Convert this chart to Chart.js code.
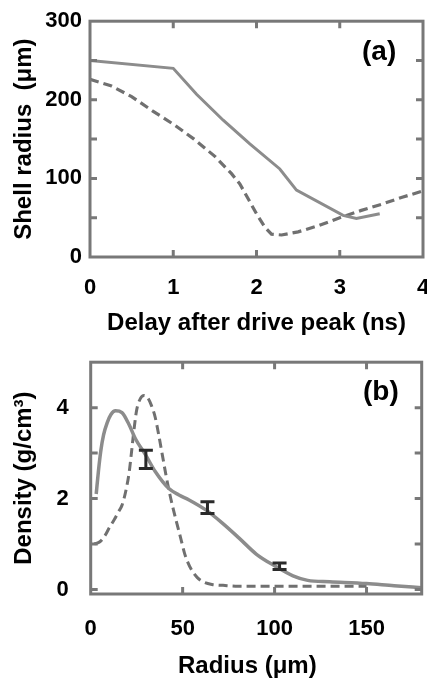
<!DOCTYPE html>
<html><head><meta charset="utf-8">
<script src="https://cdn.jsdelivr.net/npm/chart.js@4.4.1/dist/chart.umd.min.js"></script>
<style>
html,body{margin:0;padding:0;background:#fff;overflow:hidden;width:427px;height:679px;position:relative;}
#wrapA{position:absolute;left:0;top:0;width:450px;height:340px;}
#wrapB{position:absolute;left:0;top:327px;width:440px;height:352px;}
.lab{position:absolute;font:bold 28px "Liberation Sans",Arial,sans-serif;line-height:28px;color:#000;white-space:nowrap;}
.xt{position:absolute;font:bold 24px "Liberation Sans",Arial,sans-serif;line-height:24px;color:#000;white-space:nowrap;}
</style></head><body>
<div id="wrapA"><canvas id="ca" width="450" height="340"></canvas></div>
<div id="wrapB"><canvas id="cb" width="440" height="352"></canvas></div>
<div class="lab" style="left:362px;top:37px;">(a)</div>
<div class="lab" style="left:363px;top:377px;">(b)</div>
<div class="xt" style="left:178px;top:653px;">Radius (μm)</div>
<script>
// ---- Panel (a) data ----
const aSolidX = [0, 1, 1.28, 1.6, 1.92, 2.28, 2.48, 3.04, 3.2, 3.48];
const aSolidY = [250, 240, 207, 174, 144, 112, 85, 53, 49, 55];
const aDashX = [0, 0.25, 0.5, 0.75, 1, 1.25, 1.5, 1.7, 1.8, 1.9, 2, 2.1, 2.18, 2.3, 2.5, 2.75, 3, 3.25, 3.5, 3.75, 4];
const aDashY = [226, 218, 204, 186, 169, 150, 128, 106, 93, 74, 55, 38, 29, 28, 32, 40, 50, 59, 67, 76, 84];
const aXTicks = [0, 1, 2, 3, 4];
const aYTicks = [0, 50, 100, 150, 200, 250, 300];

// ---- Panel (b) data ----
const bSolidX = [3, 4.2, 5.5, 7, 9, 11, 13.5, 17, 20.7, 24.4, 30, 35, 42.5, 48, 53.5, 62.6, 71.6, 80.7, 90, 100, 110, 118, 130, 150, 165, 180];
const bSolidY = [2.1, 2.6, 3.05, 3.4, 3.67, 3.85, 3.93, 3.89, 3.64, 3.31, 2.95, 2.6, 2.22, 2.08, 1.97, 1.75, 1.46, 1.13, 0.78, 0.52, 0.3, 0.2, 0.17, 0.13, 0.08, 0.04];
const bDashX = [2, 5, 8, 10, 13, 15, 17, 19, 21, 22, 23.5, 25, 27, 29, 31, 33, 35, 37, 39, 41, 43, 45, 47, 49, 51, 53, 55, 58, 61, 66, 72, 80, 150];
const bDashY = [1.0, 1.05, 1.2, 1.35, 1.55, 1.7, 1.85, 2.15, 2.6, 2.95, 3.5, 3.95, 4.2, 4.27, 4.22, 4.05, 3.8, 3.4, 2.95, 2.5, 2.1, 1.75, 1.43, 1.12, 0.8, 0.58, 0.42, 0.26, 0.17, 0.11, 0.09, 0.07, 0.07];
const bErrX = [30, 63.5, 102.7];
const bErrY = [2.86, 1.8, 0.51];
const bErrD = [0.2, 0.13, 0.07];
const bXTicks = [0, 50, 100, 150];
const bYTicks = [0, 1, 2, 3, 4];

const FONT = "'Liberation Sans', Arial, Helvetica, sans-serif";
Chart.defaults.font.family = FONT;
Chart.defaults.color = '#000';

const SOLID = '#8c8c8c';
const DASH = '#707070';
const FRAME = '#787878';

function pts(xs, ys) { return xs.map((x, i) => ({x: x, y: ys[i]})); }

const framePlugin = {
  id: 'frame',
  afterDatasetsDraw(chart) {
    const {ctx, chartArea: a, scales: {x, y}} = chart;
    ctx.save();
    ctx.strokeStyle = FRAME;
    ctx.lineWidth = 3;
    const L = 7;
    ctx.beginPath();
    x.ticks.forEach(t => {
      const px = x.getPixelForValue(t.value);
      if (px <= a.left + 2 || px >= a.right - 2) return;
      ctx.moveTo(px, a.bottom); ctx.lineTo(px, a.bottom - L);
      ctx.moveTo(px, a.top); ctx.lineTo(px, a.top + L);
    });
    y.ticks.forEach(t => {
      const py = y.getPixelForValue(t.value);
      if (py <= a.top + 2 || py >= a.bottom - 1.5) return;
      ctx.moveTo(a.left, py); ctx.lineTo(a.left + L, py);
      ctx.moveTo(a.right, py); ctx.lineTo(a.right - L, py);
    });
    ctx.stroke();
    ctx.strokeRect(a.left, a.top, a.right - a.left, a.bottom - a.top);
    ctx.restore();
  }
};

const errPlugin = {
  id: 'errbars',
  afterDatasetsDraw(chart) {
    const {ctx, scales: {x, y}} = chart;
    ctx.save();
    ctx.strokeStyle = '#2a2a2a';
    ctx.lineWidth = 3;
    const W = 7;
    bErrX.forEach((xv, i) => {
      const px = x.getPixelForValue(xv);
      const pt = y.getPixelForValue(bErrY[i] + bErrD[i]);
      const pb = y.getPixelForValue(bErrY[i] - bErrD[i]);
      ctx.beginPath();
      ctx.moveTo(px, pt); ctx.lineTo(px, pb);
      ctx.moveTo(px - W, pt); ctx.lineTo(px + W, pt);
      ctx.moveTo(px - W, pb); ctx.lineTo(px + W, pb);
      ctx.stroke();
    });
    ctx.restore();
  }
};

function makeChart(id, cfg) {
  return new Chart(document.getElementById(id), {
    type: 'line',
    data: {datasets: cfg.datasets},
    options: {
      responsive: false,
      animation: false,
      layout: {padding: cfg.padding},
      plugins: {legend: {display: false}, tooltip: {enabled: false}},
      elements: {point: {radius: 0}},
      scales: {
        x: {
          type: 'linear', min: cfg.xmin, max: cfg.xmax,
          afterBuildTicks: s => { s.ticks = cfg.xticks.map(v => ({value: v})); },
          afterFit: s => { s.height = cfg.xh; },
          grid: {display: false, drawTicks: false},
          border: {display: false},
          ticks: {padding: cfg.xpad, autoSkip: false, maxRotation: 0, color: '#000',
                  font: {size: 22, weight: 'bold'}, callback: v => String(v)},
          title: {display: cfg.xtitle !== '', text: cfg.xtitle, color: '#000',
                  font: {size: 24, weight: 'bold'}, padding: {top: 0, bottom: cfg.xtpad}}
        },
        y: {
          type: 'linear', min: cfg.ymin, max: cfg.ymax,
          afterBuildTicks: s => { s.ticks = cfg.yticks.map(v => ({value: v})); },
          afterFit: s => { s.width = cfg.yw; },
          grid: {display: false, drawTicks: false},
          border: {display: false},
          ticks: {padding: cfg.ypad, autoSkip: false, color: '#000',
                  font: {size: 22, weight: 'bold'}, callback: cfg.ylab},
          title: {display: true, text: cfg.ytitle, color: '#000',
                  font: {size: 24, weight: 'bold'}, padding: {top: 9.6, bottom: 0}}
        }
      }
    },
    plugins: cfg.plugins
  });
}

makeChart('ca', {
  datasets: [
    {data: pts(aSolidX, aSolidY), borderColor: SOLID, borderWidth: 3, tension: 0, fill: false},
    {data: pts(aDashX, aDashY), borderColor: DASH, borderWidth: 3.2, borderDash: [9, 5], tension: 0, fill: false}
  ],
  padding: {top: 20.5, right: 27, left: 0, bottom: 0},
  xmin: 0, xmax: 4, ymin: 0, ymax: 300,
  xticks: aXTicks, yticks: aYTicks,
  xh: 83, yw: 90, xpad: 17.5, ypad: 8, xtpad: 2,
  xtitle: 'Delay after drive peak (ns)',
  ytitle: 'Shell radius  (μm)',
  ylab: v => (v % 100 === 0 ? String(v) : ''),
  plugins: [framePlugin]
});

makeChart('cb', {
  datasets: [
    {data: pts(bSolidX, bSolidY), borderColor: SOLID, borderWidth: 3.5, cubicInterpolationMode: 'monotone', fill: false},
    {data: pts(bDashX, bDashY), borderColor: DASH, borderWidth: 3, borderDash: [9, 5], cubicInterpolationMode: 'monotone', fill: false}
  ],
  padding: {top: 35.2, right: 18.3, left: 0, bottom: 0},
  xmin: 0, xmax: 180, ymin: -0.1, ymax: 5,
  xticks: bXTicks, yticks: bYTicks,
  xh: 85, yw: 90.7, xpad: 21.8, ypad: 22, xtpad: 0,
  xtitle: '',
  ytitle: 'Density (g/cm³)',
  ylab: v => (v % 2 === 0 ? String(v) : ''),
  plugins: [errPlugin, framePlugin]
});
</script>
</body></html>
